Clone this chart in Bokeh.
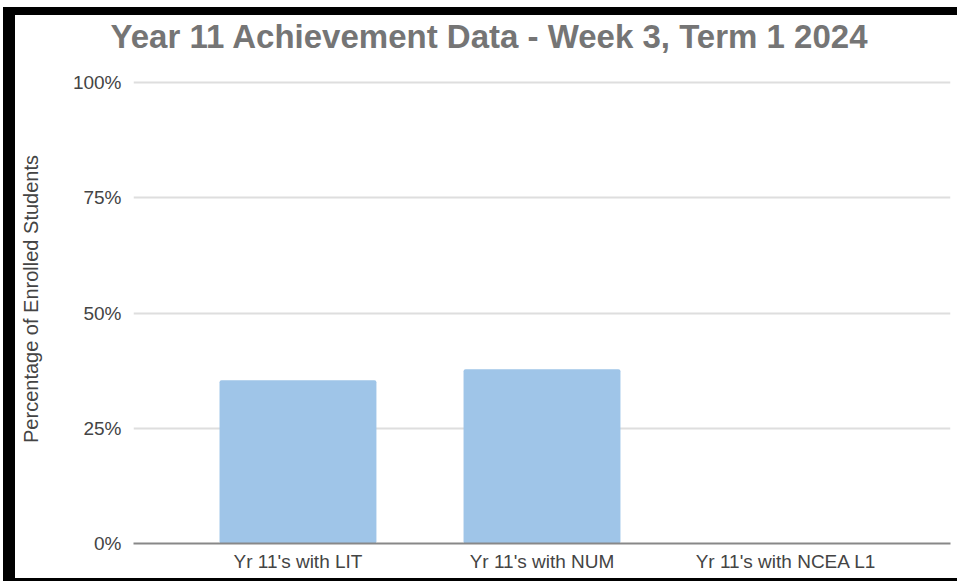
from bokeh.plotting import figure
from bokeh.models import FactorRange, Range1d, FixedTicker
from bokeh.embed import file_html
from bokeh.resources import INLINE

categories = ["Yr 11's with LIT", "Yr 11's with NUM", "Yr 11's with NCEA L1"]
values = [35.4, 37.8, 0.0]
tick_values = [0, 25, 50, 75, 100]
tick_labels = ["0%", "25%", "50%", "75%", "100%"]

FONT = "Liberation Sans"

# The CSS border makes Bokeh lay out a canvas 12px wider and 11px taller than the
# visible content box, so the right/bottom min borders are padded by that amount.
p = figure(
    width=942, height=563,
    x_range=FactorRange(factors=categories, range_padding=0.116, range_padding_units="percent"),
    y_range=Range1d(0, 106.1),
    output_backend="svg", toolbar_location=None,
    min_border_left=118, min_border_right=19, min_border_top=39, min_border_bottom=46,
)
p.styles = {
    "box-sizing": "content-box",
    "margin-top": "7px",
    "margin-left": "3px",
    "border-top": "8px solid black",
    "border-left": "12px solid black",
    "border-bottom": "3px solid black",
}
p.background_fill_color = "white"
p.border_fill_color = "white"
p.outline_line_color = None

p.vbar(x=categories, top=values, width=0.643, color="#9fc5e8", line_color=None, border_radius=2)

# title
p.title.text = "Year 11 Achievement Data - Week 3, Term 1 2024"
p.title.text_font = FONT
p.title.text_font_size = "33px"
p.title.text_font_style = "bold"
p.title.text_color = "#757575"
p.title.align = "left"
p.title.offset = -23
p.title.standoff = 0

# y axis
ya = p.yaxis[0]
ya.ticker = FixedTicker(ticks=tick_values)
ya.major_label_overrides = {v: l for v, l in zip(tick_values, tick_labels)}
ya.axis_line_color = None
ya.major_tick_line_color = None
ya.minor_tick_line_color = None
ya.major_tick_out = 0
ya.major_tick_in = 0
ya.major_label_standoff = 12
ya.major_label_text_font = FONT
ya.major_label_text_font_size = "19px"
ya.major_label_text_color = "#444444"
ya.axis_label = "Percentage of Enrolled Students"
ya.axis_label_text_font = FONT
ya.axis_label_text_font_size = "20px"
ya.axis_label_text_font_style = "normal"
ya.axis_label_text_color = "#444444"
ya.axis_label_standoff = 28

# x axis
xa = p.xaxis[0]
xa.axis_line_color = "#888888"
xa.axis_line_width = 2
xa.major_tick_line_color = None
xa.minor_tick_line_color = None
xa.major_tick_out = 0
xa.major_tick_in = 0
xa.major_label_standoff = 7
xa.major_label_text_font = FONT
xa.major_label_text_font_size = "19px"
xa.major_label_text_color = "#444444"

p.xgrid.grid_line_color = None
p.ygrid.grid_line_color = "#dedede"
p.ygrid.grid_line_width = 2

open("out.html", "w").write(file_html(p, INLINE))
